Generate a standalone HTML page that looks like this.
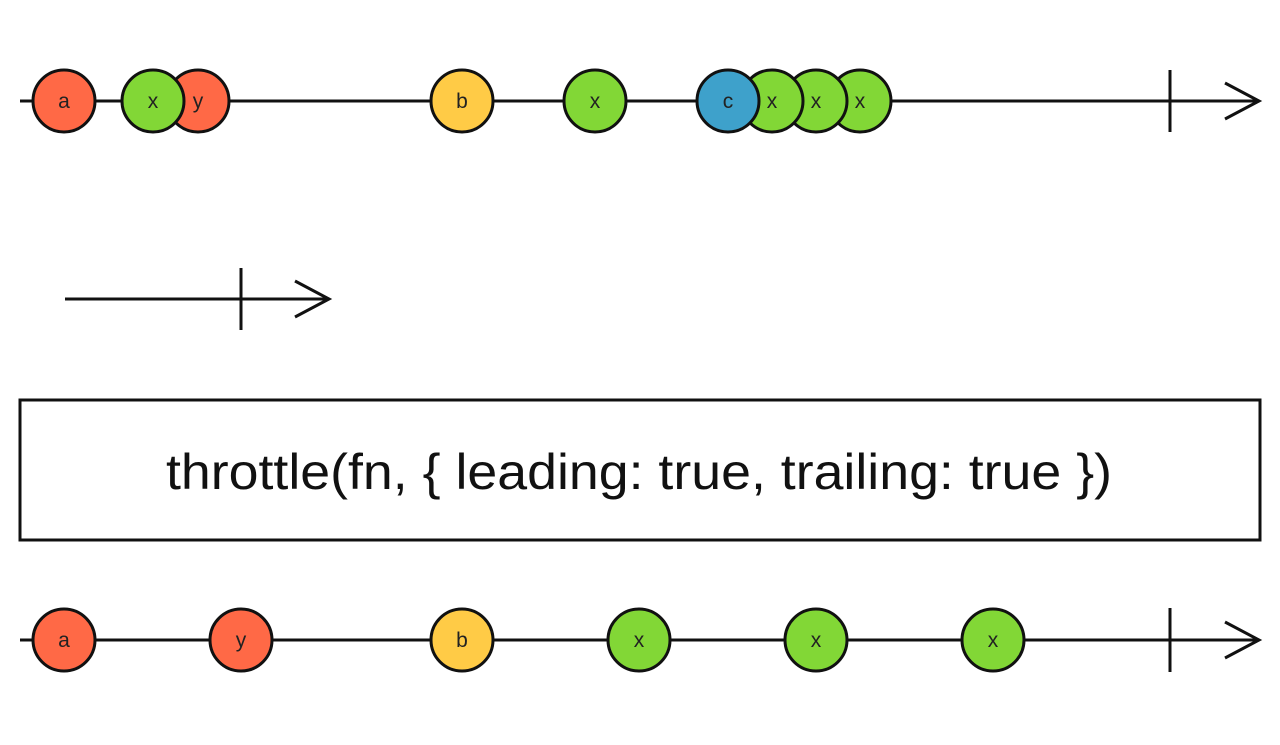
<!DOCTYPE html>
<html><head><style>body{margin:0;background:#fff}</style></head><body>
<svg width="1280" height="740" xmlns="http://www.w3.org/2000/svg" font-family="Liberation Sans, sans-serif">
<g stroke="#111" stroke-width="3" fill="none">
<line x1="20" y1="101" x2="1258" y2="101"/>
<line x1="1170" y1="70" x2="1170" y2="132"/>
<polyline points="1225,83 1259,101 1225,119"/>
<line x1="65" y1="299" x2="328" y2="299"/>
<line x1="241" y1="268" x2="241" y2="330"/>
<polyline points="295,281 329,299 295,317"/>
<rect x="20" y="400" width="1240" height="140"/>
<line x1="20" y1="640" x2="1258" y2="640"/>
<line x1="1170" y1="608" x2="1170" y2="672"/>
<polyline points="1225,622 1259,640 1225,658"/>
</g>
<g stroke="#111" stroke-width="3" font-size="21" text-anchor="middle">
<circle cx="64" cy="101" r="31" fill="#ff6946"/><text x="64" y="108" stroke="none" fill="#222">a</text>
<circle cx="198" cy="101" r="31" fill="#ff6946"/><text x="198" y="108" stroke="none" fill="#222">y</text>
<circle cx="153" cy="101" r="31" fill="#82d736"/><text x="153" y="108" stroke="none" fill="#222">x</text>
<circle cx="462" cy="101" r="31" fill="#ffcb46"/><text x="462" y="108" stroke="none" fill="#222">b</text>
<circle cx="595" cy="101" r="31" fill="#82d736"/><text x="595" y="108" stroke="none" fill="#222">x</text>
<circle cx="860" cy="101" r="31" fill="#82d736"/><text x="860" y="108" stroke="none" fill="#222">x</text>
<circle cx="816" cy="101" r="31" fill="#82d736"/><text x="816" y="108" stroke="none" fill="#222">x</text>
<circle cx="772" cy="101" r="31" fill="#82d736"/><text x="772" y="108" stroke="none" fill="#222">x</text>
<circle cx="728" cy="101" r="31" fill="#3ea1cb"/><text x="728" y="108" stroke="none" fill="#222">c</text>
<circle cx="64" cy="640" r="31" fill="#ff6946"/><text x="64" y="647" stroke="none" fill="#222">a</text>
<circle cx="241" cy="640" r="31" fill="#ff6946"/><text x="241" y="647" stroke="none" fill="#222">y</text>
<circle cx="462" cy="640" r="31" fill="#ffcb46"/><text x="462" y="647" stroke="none" fill="#222">b</text>
<circle cx="639" cy="640" r="31" fill="#82d736"/><text x="639" y="647" stroke="none" fill="#222">x</text>
<circle cx="816" cy="640" r="31" fill="#82d736"/><text x="816" y="647" stroke="none" fill="#222">x</text>
<circle cx="993" cy="640" r="31" fill="#82d736"/><text x="993" y="647" stroke="none" fill="#222">x</text>
</g>
<text x="639" y="489" font-size="50" textLength="946" lengthAdjust="spacingAndGlyphs" text-anchor="middle" fill="#111">throttle(fn, { leading: true, trailing: true })</text>
</svg>
</body></html>
